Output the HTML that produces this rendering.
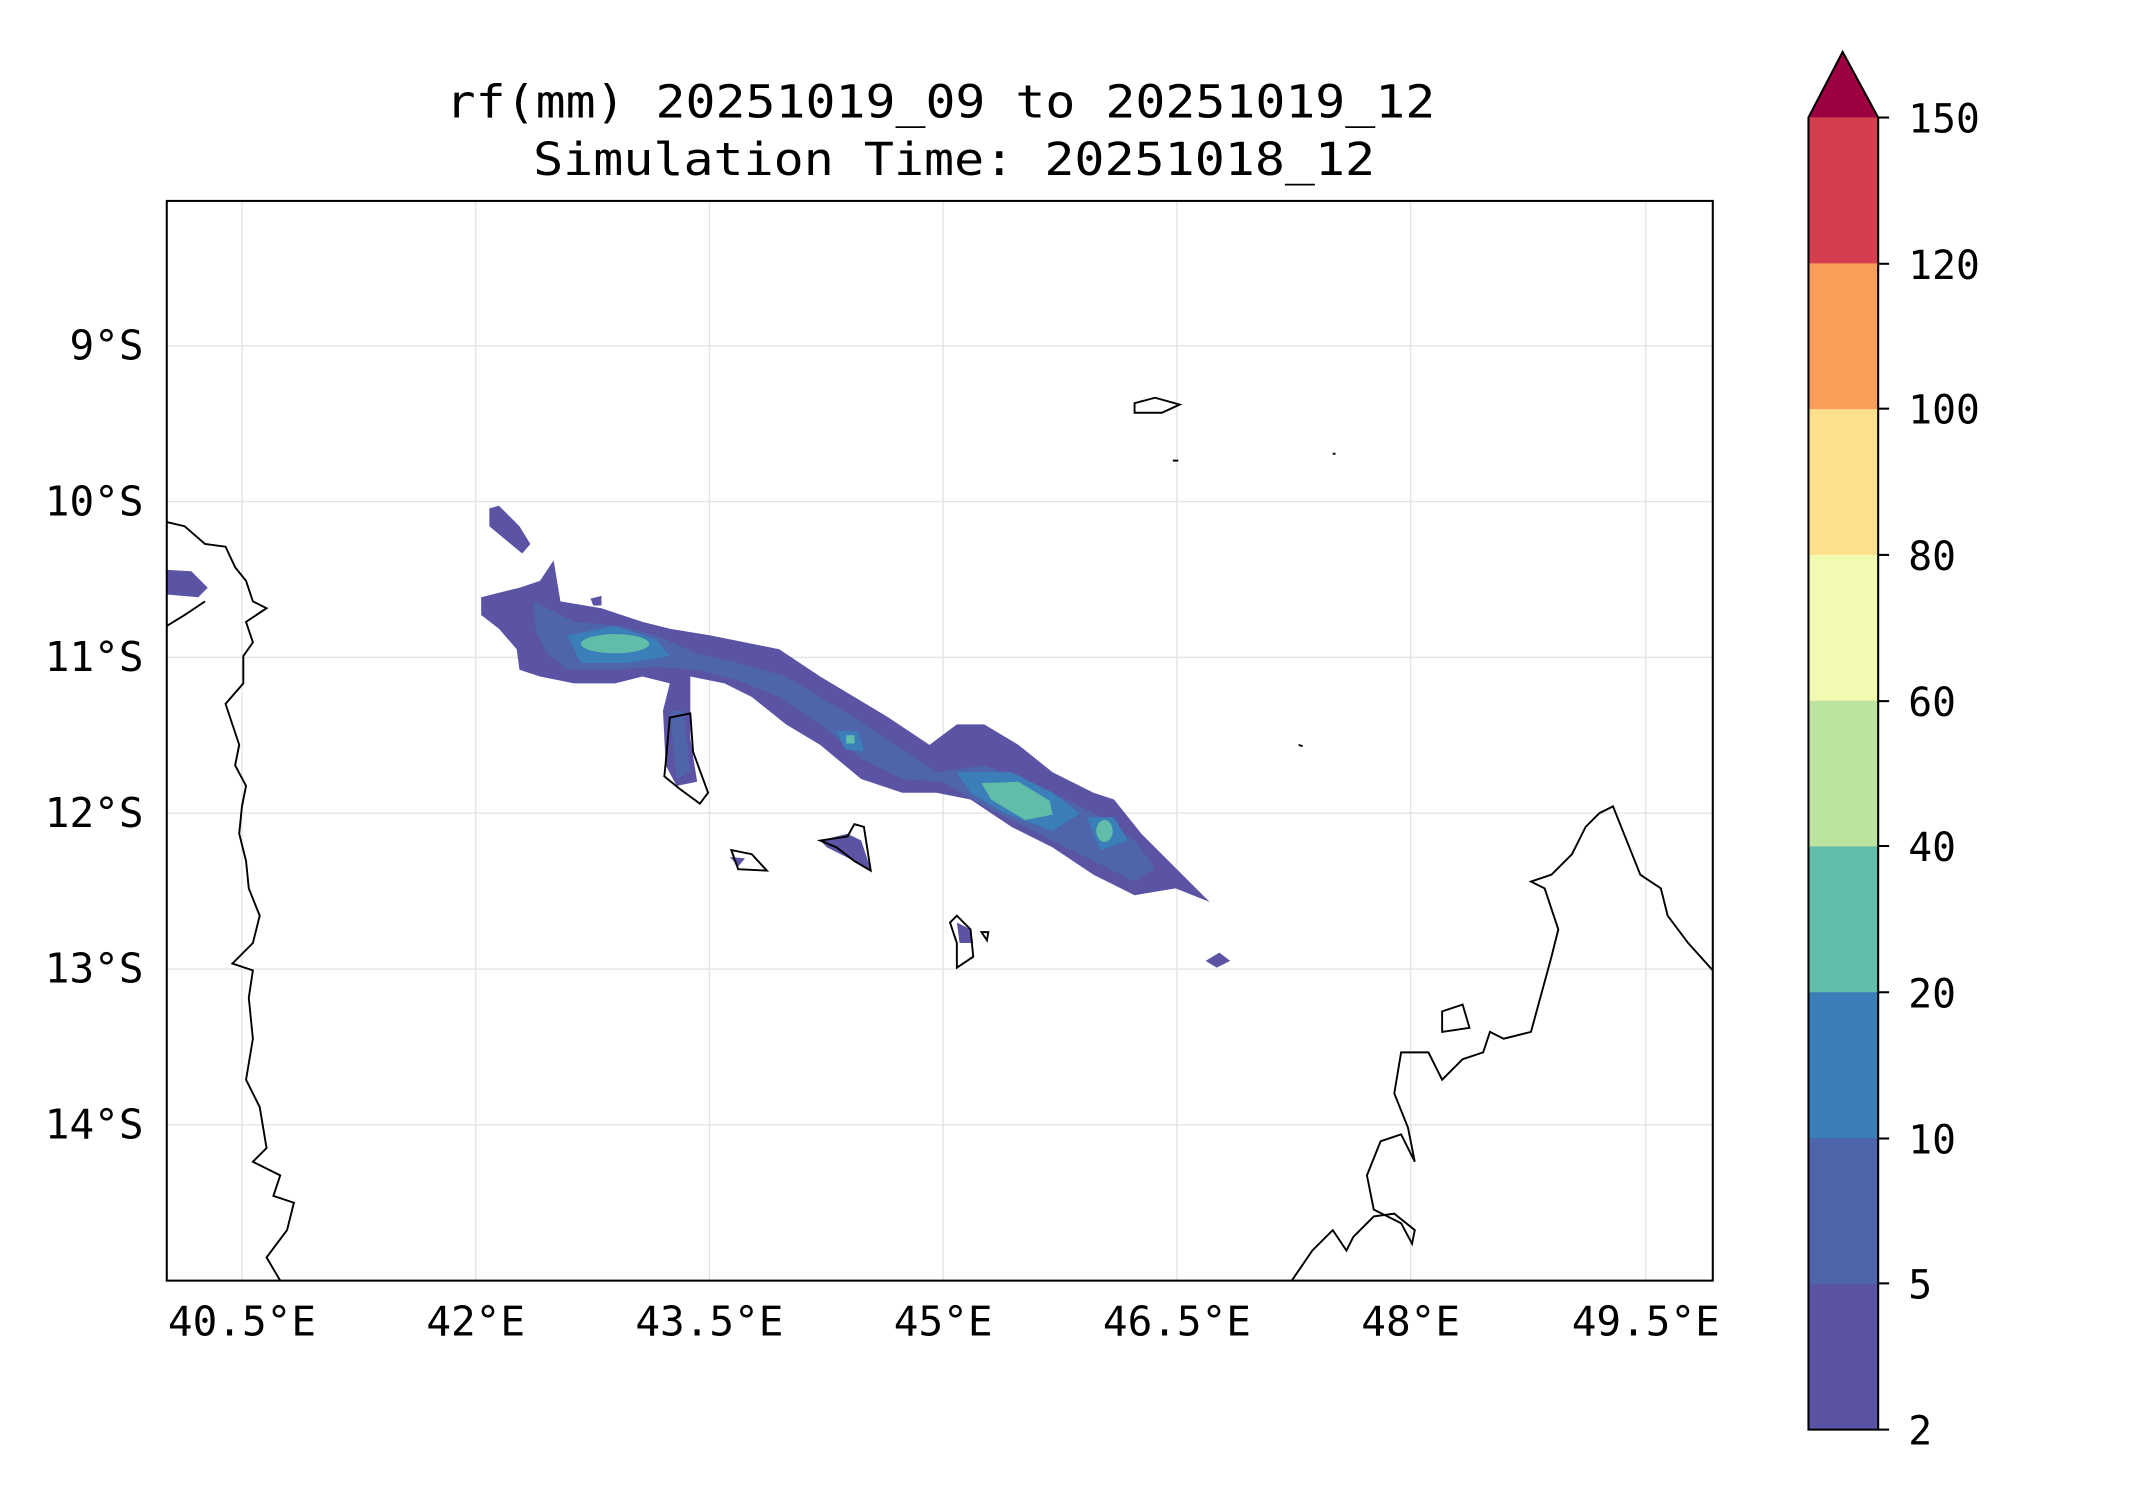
<!DOCTYPE html>
<html><head><meta charset="utf-8"><style>html,body{margin:0;padding:0;background:#fff}svg{display:block}</style></head><body>
<svg width="2142" height="1500" viewBox="0 0 1567 1097.5" preserveAspectRatio="none" xmlns="http://www.w3.org/2000/svg" font-family="'DejaVu Sans Mono','Liberation Mono',monospace">
<rect width="1567" height="1098" fill="#fff"/>
<text x="688" y="86" font-size="33" text-anchor="middle" textLength="724" lengthAdjust="spacingAndGlyphs">rf(mm) 20251019_09 to 20251019_12</text>
<text x="698" y="128" font-size="33" text-anchor="middle" textLength="616" lengthAdjust="spacingAndGlyphs">Simulation Time: 20251018_12</text>
<defs><clipPath id="c"><rect x="122" y="147" width="1131" height="790"/></clipPath></defs>
<g clip-path="url(#c)">
<g stroke="#e4e4e4" stroke-width="1">
<line x1="177" y1="147" x2="177" y2="937"/><line x1="348" y1="147" x2="348" y2="937"/><line x1="519" y1="147" x2="519" y2="937"/><line x1="690" y1="147" x2="690" y2="937"/><line x1="861" y1="147" x2="861" y2="937"/><line x1="1032" y1="147" x2="1032" y2="937"/><line x1="1204" y1="147" x2="1204" y2="937"/>
<line x1="122" y1="253" x2="1253" y2="253"/><line x1="122" y1="367" x2="1253" y2="367"/><line x1="122" y1="481" x2="1253" y2="481"/><line x1="122" y1="595" x2="1253" y2="595"/><line x1="122" y1="709" x2="1253" y2="709"/><line x1="122" y1="823" x2="1253" y2="823"/>
</g>
<g fill="#5b53a4">
<path d="M352,437 L380,430 L395,425 L405,410 L410,440 L440,445 L470,455 L490,460 L520,465 L545,470 L570,475 L600,495 L625,510 L650,525 L680,545 L700,530 L720,530 L745,545 L770,565 L800,580 L815,585 L835,610 L850,625 L885,660 L860,650 L830,655 L800,640 L770,620 L740,605 L710,585 L685,580 L660,580 L630,570 L600,545 L575,530 L550,510 L530,500 L505,495 L505,540 L510,572 L495,575 L487,560 L485,520 L490,500 L470,495 L450,500 L420,500 L395,495 L380,490 L378,475 L365,460 L352,450 Z"/>
<path d="M358,372 L365,370 L380,385 L388,398 L382,405 L370,395 L358,385 Z"/>
<path d="M122,417 L140,418 L152,430 L145,437 L122,435 Z"/>
<path d="M600,615 L620,610 L630,615 L637,636 L625,630 L605,620 Z"/>
<path d="M700,675 L710,680 L712,690 L702,690 Z"/>
<path d="M882,703 L892,697 L900,703 L890,708 Z"/>
<path d="M534,627 L545,628 L540,634 Z"/>
<path d="M432,438 L440,436 L440,443 L434,443 Z"/>
</g>
<g fill="#4e64ab">
<path d="M390,440 L420,455 L455,458 L480,465 L510,478 L540,485 L575,495 L600,510 L625,525 L655,545 L685,565 L720,560 L760,575 L800,595 L830,615 L845,635 L830,645 L800,630 L760,610 L720,590 L690,572 L660,570 L630,555 L600,530 L570,510 L540,498 L510,490 L480,488 L450,490 L415,490 L400,478 L392,462 Z"/>
<path d="M490,520 L500,520 L505,565 L495,570 Z"/>
</g>
<g fill="#3a7fb9">
<path d="M415,465 L450,458 L480,468 L490,480 L460,485 L425,485 Z"/>
<path d="M700,565 L740,565 L770,580 L790,595 L770,608 L735,595 L710,580 Z"/>
<path d="M795,598 L815,598 L825,615 L805,622 Z"/>
<path d="M612,535 L628,535 L632,550 L618,548 Z"/>
</g>
<g fill="#61bda9">
<ellipse cx="450" cy="471" rx="25" ry="7"/>
<path d="M718,573 L745,572 L768,586 L770,596 L750,600 L725,585 Z"/>
<ellipse cx="808" cy="608" rx="6" ry="8"/>
<rect x="619" y="538" width="6" height="6"/>
</g>
<g fill="none" stroke="#000" stroke-width="1.4">
<path d="M122,382 L135,385 L150,398 L165,400 L172,415 L180,425 L185,440 L195,445 L180,455 L185,470 L178,480 L178,500 L165,515 L170,530 L175,545 L172,560 L180,575 L177,590 L175,610 L180,630 L182,650 L190,670 L185,690 L170,705 L185,710 L182,730 L185,760 L180,790 L190,810 L195,840 L185,850 L205,860 L200,875 L215,880 L210,900 L195,920 L205,937"/>
<path d="M122,458 L135,450 L150,440"/>
<path d="M945,937 L960,915 L975,900 L985,915 L990,905 L1005,890 L1020,888 L1035,900 L1033,910 L1025,895 L1005,885 L1000,860 L1010,835 L1025,830 L1035,850 L1030,825 L1020,800 L1025,770 L1045,770 L1055,790 L1070,775 L1085,770 L1090,755 L1100,760 L1120,755 L1135,700 L1140,680 L1130,650 L1120,645 L1135,640 L1150,625 L1160,605 L1170,595 L1180,590 L1190,615 L1200,640 L1215,650 L1220,670 L1235,690 L1253,710"/>
<path d="M1055,740 L1070,735 L1075,752 L1055,755 Z"/>
<path d="M487,558 L490,525 L505,522 L507,550 L518,580 L512,588 L497,577 L486,568 Z"/>
<path d="M535,622 L550,625 L561,637 L540,636 Z"/>
<path d="M600,615 L620,612 L625,603 L632,605 L637,637 L625,630 L612,620 Z"/>
<path d="M695,675 L700,670 L710,680 L712,700 L700,708 L700,690 Z"/>
<path d="M718,682 L723,682 L722,688 Z"/>
<path d="M830,295 L845,291 L863,296 L850,302 L830,302 Z"/>
<path d="M858,337 L862,337"/><path d="M975,332 L977,332"/><path d="M950,545 L953,546"/>
</g>
</g>
<rect x="122" y="147" width="1131" height="790" fill="none" stroke="#000" stroke-width="1.5"/>
<g font-size="30" text-anchor="middle">
<text x="177" y="977">40.5°E</text><text x="348" y="977">42°E</text><text x="519" y="977">43.5°E</text><text x="690" y="977">45°E</text><text x="861" y="977">46.5°E</text><text x="1032" y="977">48°E</text><text x="1204" y="977">49.5°E</text>
</g>
<g font-size="30" text-anchor="end">
<text x="105" y="263">9°S</text><text x="105" y="377">10°S</text><text x="105" y="491">11°S</text><text x="105" y="605">12°S</text><text x="105" y="719">13°S</text><text x="105" y="833">14°S</text>
</g>
<polygon points="1323,86 1348,38 1374,86" fill="#9e0142"/>
<rect x="1323" y="86" width="51" height="107" fill="#d53e4f"/>
<rect x="1323" y="192.7" width="51" height="107" fill="#f99d59"/>
<rect x="1323" y="299.3" width="51" height="107" fill="#fde08b"/>
<rect x="1323" y="406" width="51" height="107" fill="#f2f9b0"/>
<rect x="1323" y="512.7" width="51" height="107" fill="#bce4a0"/>
<rect x="1323" y="619.3" width="51" height="107" fill="#61bda9"/>
<rect x="1323" y="726" width="51" height="107" fill="#3a7fb9"/>
<rect x="1323" y="832.7" width="51" height="107" fill="#4e64ab"/>
<rect x="1323" y="939.3" width="51" height="107" fill="#5b53a4"/>
<polygon points="1323,1046 1323,86 1348,38 1374,86 1374,1046" fill="none" stroke="#000" stroke-width="1.5"/>
<g stroke="#000" stroke-width="1.5">
<line x1="1374" y1="86" x2="1382" y2="86"/><line x1="1374" y1="193" x2="1382" y2="193"/><line x1="1374" y1="299" x2="1382" y2="299"/><line x1="1374" y1="406" x2="1382" y2="406"/><line x1="1374" y1="513" x2="1382" y2="513"/><line x1="1374" y1="619" x2="1382" y2="619"/><line x1="1374" y1="726" x2="1382" y2="726"/><line x1="1374" y1="833" x2="1382" y2="833"/><line x1="1374" y1="939" x2="1382" y2="939"/><line x1="1374" y1="1046" x2="1382" y2="1046"/>
</g>
<g font-size="29">
<text x="1396" y="97">150</text><text x="1396" y="204">120</text><text x="1396" y="310">100</text><text x="1396" y="417">80</text><text x="1396" y="524">60</text><text x="1396" y="630">40</text><text x="1396" y="737">20</text><text x="1396" y="844">10</text><text x="1396" y="950">5</text><text x="1396" y="1057">2</text>
</g>
</svg>
</body></html>
